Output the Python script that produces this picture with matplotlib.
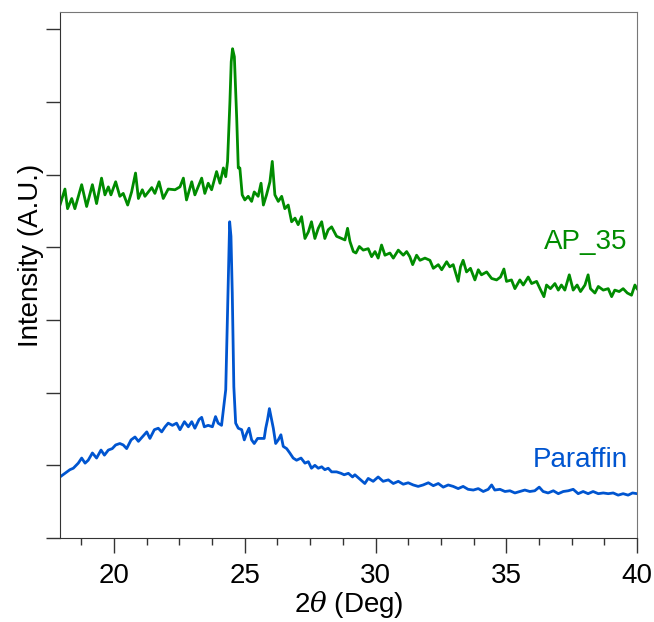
import matplotlib
matplotlib.use("Agg")
import matplotlib.pyplot as plt
from matplotlib.ticker import MultipleLocator, NullFormatter

plt.rcParams["font.family"] = ["Liberation Sans", "DejaVu Sans"]
plt.rcParams["mathtext.fontset"] = "dejavuserif"

# XRD traces (2theta in deg, intensity in arbitrary tick units)
ap35_2theta = [
    17.93, 18.12, 18.22, 18.38, 18.50, 18.76, 18.95, 19.17, 19.33, 19.52, 19.65, 19.78,
    19.88, 20.06, 20.22, 20.35, 20.52, 20.67, 20.82, 20.93, 21.08, 21.18, 21.44, 21.56,
    21.72, 21.88, 22.07, 22.33, 22.52, 22.65, 22.77, 22.97, 23.09, 23.35, 23.47, 23.60,
    23.73, 23.92, 24.05, 24.18, 24.27, 24.34, 24.43, 24.48, 24.53, 24.60, 24.69, 24.75,
    24.81, 24.90, 25.00, 25.13, 25.26, 25.36, 25.51, 25.62, 25.71, 25.83, 25.96, 26.05,
    26.15, 26.28, 26.41, 26.53, 26.66, 26.79, 26.92, 27.04, 27.17, 27.30, 27.43, 27.55,
    27.68, 27.81, 27.94, 28.06, 28.19, 28.32, 28.51, 28.70, 28.83, 28.93, 29.02, 29.15,
    29.25, 29.38, 29.53, 29.72, 29.85, 29.98, 30.10, 30.23, 30.36, 30.55, 30.68, 30.87,
    31.06, 31.19, 31.31, 31.42, 31.57, 31.70, 31.89, 32.08, 32.21, 32.40, 32.53, 32.72,
    32.84, 32.97, 33.16, 33.25, 33.35, 33.48, 33.63, 33.80, 33.93, 34.05, 34.25, 34.44,
    34.63, 34.78, 34.91, 35.01, 35.20, 35.33, 35.52, 35.65, 35.84, 35.97, 36.16, 36.29,
    36.44, 36.54, 36.69, 36.86, 36.99, 37.11, 37.24, 37.41, 37.56, 37.71, 37.84, 38.01,
    38.13, 38.22, 38.39, 38.52, 38.71, 38.90, 39.03, 39.15, 39.32, 39.47, 39.63, 39.79,
    39.92, 40.00,
]
ap35_intensity = [
    4.58, 4.80, 4.53, 4.67, 4.53, 4.86, 4.56, 4.86, 4.60, 4.95, 4.72, 4.83,
    4.72, 4.90, 4.70, 4.74, 4.58, 4.76, 5.02, 4.67, 4.79, 4.70, 4.82, 4.74,
    4.90, 4.67, 4.80, 4.79, 4.83, 4.95, 4.65, 4.90, 4.72, 4.95, 4.74, 4.88,
    4.79, 5.04, 4.88, 5.09, 4.97, 5.18, 6.00, 6.55, 6.73, 6.62, 5.77, 5.09,
    5.09, 4.72, 4.65, 4.70, 4.63, 4.76, 4.70, 4.88, 4.58, 4.72, 4.90, 5.18,
    4.72, 4.63, 4.70, 4.53, 4.58, 4.35, 4.40, 4.31, 4.42, 4.12, 4.21, 4.35,
    4.12, 4.26, 4.35, 4.12, 4.24, 4.28, 4.15, 4.12, 4.10, 4.26, 4.08, 3.94,
    3.92, 4.01, 3.96, 3.98, 3.87, 3.94, 3.85, 4.03, 3.89, 3.92, 3.85, 3.96,
    3.89, 3.94, 3.87, 3.76, 3.89, 3.82, 3.85, 3.82, 3.71, 3.76, 3.69, 3.80,
    3.73, 3.76, 3.53, 3.73, 3.82, 3.66, 3.71, 3.55, 3.69, 3.62, 3.66, 3.57,
    3.55, 3.59, 3.70, 3.53, 3.55, 3.43, 3.55, 3.48, 3.59, 3.50, 3.53, 3.43,
    3.32, 3.48, 3.43, 3.50, 3.41, 3.48, 3.41, 3.62, 3.41, 3.48, 3.39, 3.48,
    3.62, 3.43, 3.37, 3.46, 3.41, 3.43, 3.32, 3.41, 3.39, 3.43, 3.37, 3.34,
    3.48, 3.43,
]

paraffin_2theta = [
    17.93, 18.12, 18.31, 18.44, 18.63, 18.76, 18.89, 19.01, 19.17, 19.33, 19.50, 19.63,
    19.78, 19.93, 20.06, 20.22, 20.35, 20.48, 20.65, 20.80, 20.93, 21.08, 21.25, 21.37,
    21.54, 21.69, 21.82, 21.95, 22.07, 22.23, 22.39, 22.52, 22.69, 22.84, 22.97, 23.09,
    23.25, 23.35, 23.45, 23.60, 23.76, 23.88, 23.98, 24.11, 24.18, 24.27, 24.34, 24.42,
    24.47, 24.52, 24.58, 24.65, 24.75, 24.88, 24.98, 25.07, 25.16, 25.26, 25.36, 25.49,
    25.62, 25.74, 25.80, 25.87, 25.94, 26.00, 26.09, 26.18, 26.28, 26.38, 26.47, 26.60,
    26.72, 26.85, 26.98, 27.15, 27.30, 27.43, 27.55, 27.68, 27.81, 27.94, 28.06, 28.19,
    28.32, 28.51, 28.68, 28.80, 28.96, 29.12, 29.21, 29.40, 29.59, 29.72, 29.91, 30.10,
    30.29, 30.49, 30.68, 30.87, 31.06, 31.25, 31.44, 31.63, 31.82, 32.02, 32.21, 32.40,
    32.59, 32.78, 32.97, 33.16, 33.35, 33.54, 33.74, 33.93, 34.12, 34.31, 34.44, 34.56,
    34.76, 34.95, 35.14, 35.33, 35.52, 35.71, 35.90, 36.09, 36.26, 36.41, 36.60, 36.80,
    36.99, 37.18, 37.37, 37.56, 37.75, 37.94, 38.13, 38.32, 38.52, 38.71, 38.90, 39.09,
    39.28, 39.47, 39.66, 39.83, 40.00,
]
paraffin_intensity = [
    0.84, 0.89, 0.94, 0.96, 1.03, 1.10, 1.03, 1.07, 1.17, 1.10, 1.21, 1.14,
    1.21, 1.23, 1.28, 1.30, 1.28, 1.23, 1.35, 1.39, 1.33, 1.39, 1.46, 1.37,
    1.49, 1.51, 1.46, 1.53, 1.58, 1.55, 1.58, 1.49, 1.60, 1.53, 1.60, 1.51,
    1.63, 1.66, 1.53, 1.55, 1.53, 1.67, 1.58, 1.55, 1.76, 2.04, 3.14, 4.35,
    4.15, 3.37, 2.08, 1.58, 1.51, 1.49, 1.35, 1.44, 1.51, 1.35, 1.30, 1.37,
    1.37, 1.37, 1.51, 1.63, 1.78, 1.67, 1.51, 1.30, 1.35, 1.42, 1.26, 1.23,
    1.17, 1.10, 1.07, 1.10, 1.03, 1.05, 0.96, 1.00, 0.96, 0.98, 0.94, 0.96,
    0.91, 0.91, 0.89, 0.87, 0.89, 0.84, 0.87, 0.81, 0.75, 0.82, 0.78, 0.84,
    0.78, 0.80, 0.75, 0.78, 0.74, 0.76, 0.73, 0.71, 0.73, 0.76, 0.72, 0.75,
    0.70, 0.73, 0.71, 0.68, 0.71, 0.67, 0.66, 0.68, 0.64, 0.67, 0.73, 0.66,
    0.67, 0.64, 0.65, 0.62, 0.64, 0.66, 0.64, 0.65, 0.70, 0.64, 0.62, 0.65,
    0.61, 0.64, 0.65, 0.67, 0.61, 0.64, 0.61, 0.64, 0.61, 0.62, 0.61, 0.62,
    0.59, 0.61, 0.59, 0.62, 0.61,
]

green = "#008C00"
blue = "#0055D0"

fig = plt.figure(figsize=(6.54, 6.22), dpi=100)
ax = fig.add_axes([0.0917, 0.135, 0.8823, 0.8457])

ax.plot(ap35_2theta, ap35_intensity, color=green, lw=2.0)
ax.plot(paraffin_2theta, paraffin_intensity, color=blue, lw=2.0)

ax.text(39.65, 4.07, "AP_35", color=green, fontsize=20, ha="right", va="center")
ax.text(39.65, 1.07, "Paraffin", color=blue, fontsize=20, ha="right", va="center")

ax.set_xlim(17.93, 40)
ax.set_ylim(0, 7.235)
ax.xaxis.set_major_locator(MultipleLocator(5))
ax.xaxis.set_minor_locator(MultipleLocator(1.25))
ax.yaxis.set_major_locator(MultipleLocator(1))
ax.yaxis.set_major_formatter(NullFormatter())
ax.tick_params(axis="x", which="major", direction="out", length=11, width=1,
               labelsize=20, pad=7, color="#333333")
ax.tick_params(axis="x", which="minor", direction="out", length=5, width=1, color="#333333")
ax.tick_params(axis="y", which="major", direction="out", length=10, width=1, color="#333333")

for side in ("left", "bottom"):
    ax.spines[side].set_color("#333333")
for side in ("top", "right"):
    ax.spines[side].set_color("#777777")

ax.set_xlabel(r"2$\theta$ (Deg)", fontsize=20, labelpad=0)
ax.set_ylabel("Intensity (A.U.)", fontsize=20)
ax.yaxis.set_label_coords(-0.028, 0.538)

fig.savefig("out.png", dpi=100)
